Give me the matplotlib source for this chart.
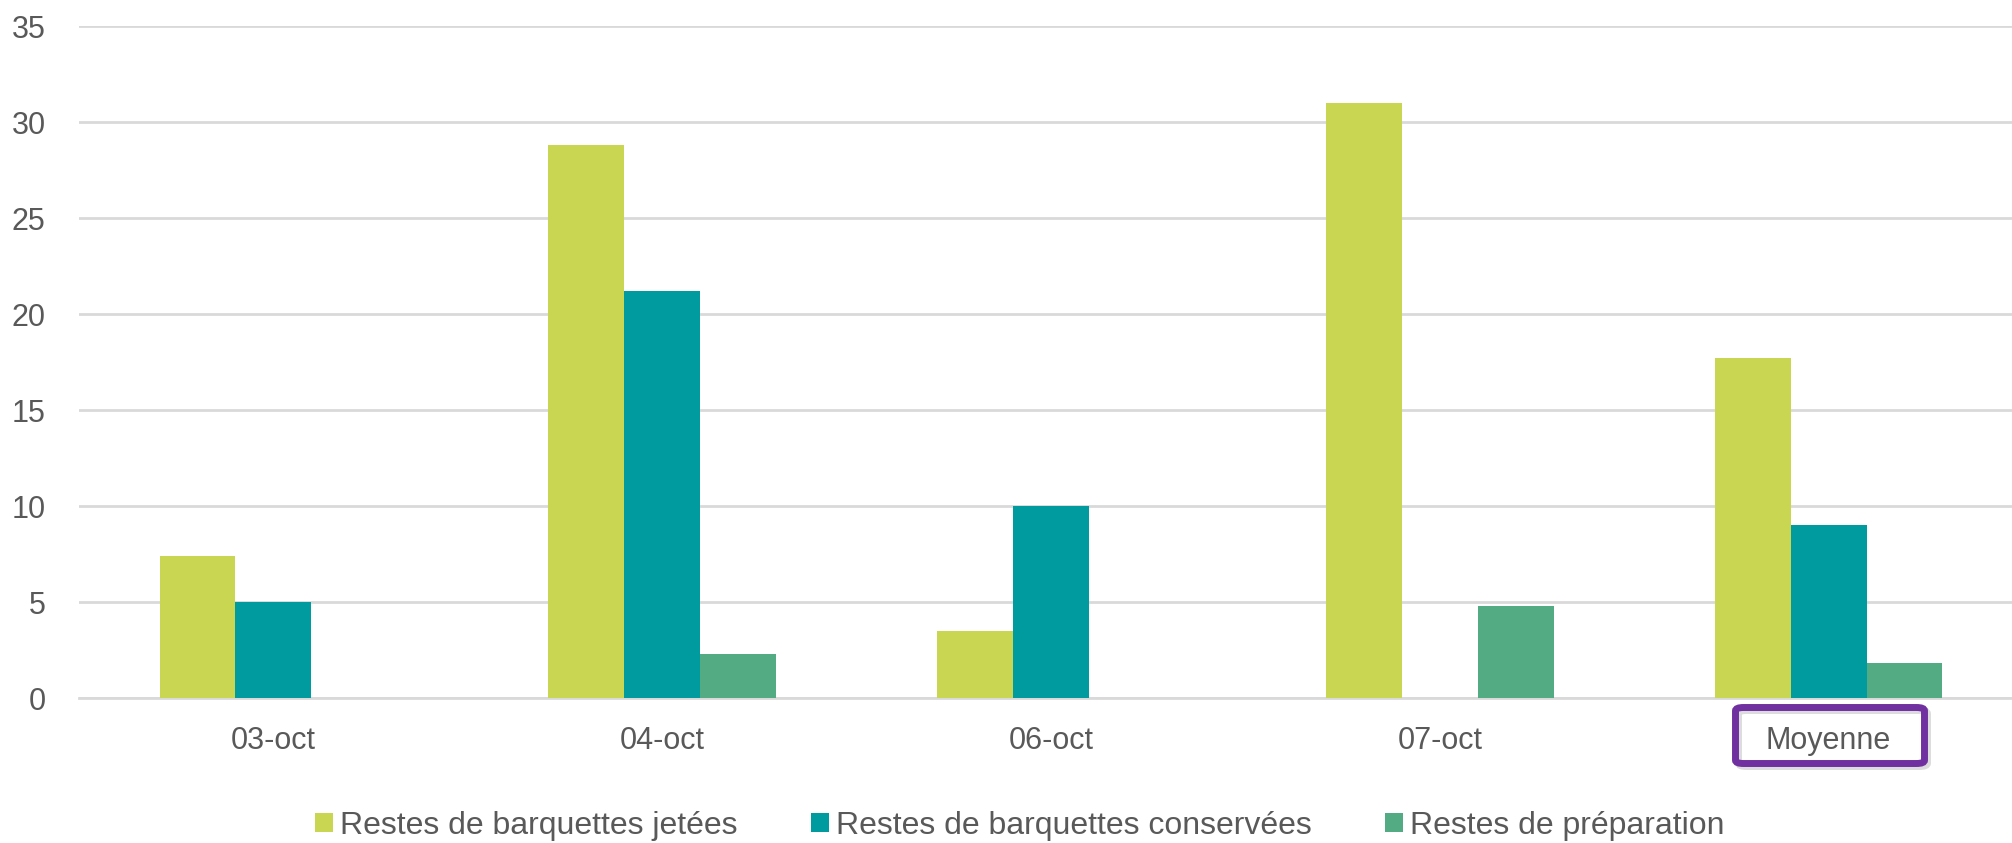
import matplotlib
matplotlib.use("Agg")
import matplotlib.pyplot as plt
import numpy as np
from matplotlib.patches import FancyBboxPatch

categories = ["03-oct", "04-oct", "06-oct", "07-oct", "Moyenne"]
series_names = ["Restes de barquettes jetées",
                "Restes de barquettes conservées",
                "Restes de préparation"]
jetees = [7.4, 28.8, 3.5, 31.0, 17.7]
conservees = [5.0, 21.2, 10.0, 0.0, 9.0]
preparation = [0.0, 2.3, 0.0, 4.8, 1.8]
yticks = [0, 5, 10, 15, 20, 25, 30, 35]

colors = ["#C9D651", "#009B9E", "#52AB83"]
text_color = "#595959"
grid_color = "#D9D9D9"

plt.rcParams['font.family'] = ['Liberation Sans', 'DejaVu Sans']

W, H = 2012, 843
fig = plt.figure(figsize=(W / 100, H / 100), dpi=100)
ax = fig.add_axes([79 / W, (H - 698) / H, (2023 - 79) / W, (698 - 26) / H])

x = np.arange(len(categories))
w = 0.195
for i, (vals, name) in enumerate(zip([jetees, conservees, preparation], series_names)):
    ax.bar(x + (i - 1) * w, vals, width=w, color=colors[i], label=name, zorder=3,
           linewidth=0)

ax.set_xlim(-0.5, len(categories) - 0.5)
ax.set_ylim(0, 35)
ax.set_yticks(yticks)
ax.set_xticks(x)
ax.set_xticklabels(categories)
ax.yaxis.grid(True, color=grid_color, linewidth=2, zorder=0)
ax.set_axisbelow(True)
for s in ["top", "right", "left"]:
    ax.spines[s].set_visible(False)
ax.spines["bottom"].set_color(grid_color)
ax.spines["bottom"].set_linewidth(2)
ax.tick_params(axis="both", length=0, labelsize=22, labelcolor=text_color)
ax.tick_params(axis="y", pad=24)
ax.tick_params(axis="x", pad=20)

fig.legend(loc="center", bbox_to_anchor=(1020 / W, (H - 826) / H), ncol=3,
           frameon=False, fontsize=23, labelcolor=text_color,
           handlelength=0.56, handleheight=0.56, handletextpad=0.22,
           columnspacing=2.3, borderpad=0, borderaxespad=0)

# shadow + highlight box around "Moyenne"
x0, x1, y0, y1 = 1735.5, 1924.5, 707.5, 763.5
shadow = FancyBboxPatch(((x0 + 3) / W, (H - y1 - 3) / H), (x1 - x0) / W, (y1 - y0) / H,
                        boxstyle="round,pad=0,rounding_size=0.004",
                        transform=fig.transFigure, facecolor="none",
                        edgecolor="#BBBBBB", linewidth=5.0, alpha=0.5, zorder=9)
fig.add_artist(shadow)
box = FancyBboxPatch((x0 / W, (H - y1) / H), (x1 - x0) / W, (y1 - y0) / H,
                     boxstyle="round,pad=0,rounding_size=0.004",
                     transform=fig.transFigure, facecolor="none",
                     edgecolor="#7030A0", linewidth=5.0, zorder=10)
fig.add_artist(box)

fig.savefig("out.png", dpi=100, facecolor="white")
